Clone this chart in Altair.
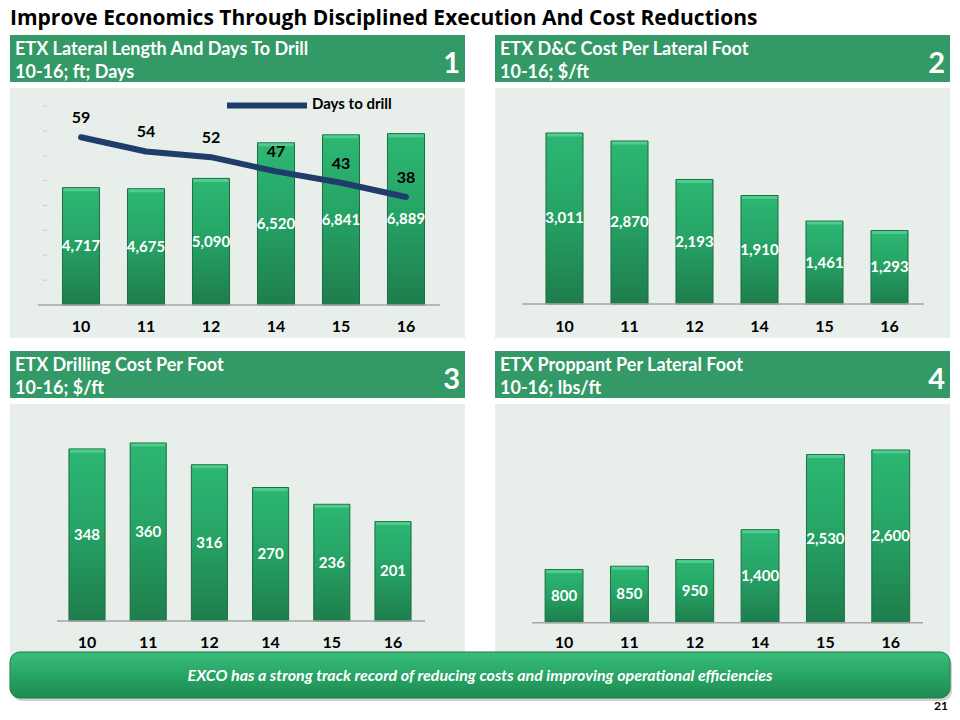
import altair as alt
import pandas as pd

# ---------------- data ----------------
years = ["10", "11", "12", "14", "15", "16"]
lateral_ft = [4717, 4675, 5090, 6520, 6841, 6889]
days_to_drill = [59, 54, 52, 47, 43, 38]
dc_cost_per_ft = [3011, 2870, 2193, 1910, 1461, 1293]
drilling_cost_per_ft = [348, 360, 316, 270, 236, 201]
proppant_per_ft = [800, 850, 950, 1400, 2530, 2600]
lateral_tick_values = [1000, 2000, 3000, 4000, 5000, 6000, 7000, 8000]

title_text = "Improve Economics Through Disciplined Execution And Cost Reductions"
headers = [
    ["ETX Lateral Length And Days To Drill", "10-16; ft; Days"],
    ["ETX D&C Cost Per Lateral Foot", "10-16; $/ft"],
    ["ETX Drilling Cost Per Foot", "10-16; $/ft"],
    ["ETX Proppant Per Lateral Foot", "10-16; lbs/ft"],
]
banner_text = "EXCO has a strong track record of reducing costs and improving operational efficiencies"

FONT = "Lato"
HEADER_GREEN = "#339966"
PANEL_GRAY = "#e8eeea"
LINE_BLUE = "#1f3d6b"

dummy = alt.Data(values=[{"a": 1}])

bar_grad = alt.Gradient(
    gradient="linear",
    stops=[
        alt.GradientStop(offset=0, color="#2db773"),
        alt.GradientStop(offset=0.45, color="#26a466"),
        alt.GradientStop(offset=1, color="#1e7d4c"),
    ],
    x1=0, x2=0, y1=0, y2=1,
)
banner_grad = alt.Gradient(
    gradient="linear",
    stops=[
        alt.GradientStop(offset=0, color="#3bbd7c"),
        alt.GradientStop(offset=0.5, color="#27a565"),
        alt.GradientStop(offset=1, color="#1f8a53"),
    ],
    x1=0, x2=0, y1=0, y2=1,
)

layers = []


def rect(x1, x2, y1, y2, **kw):
    return alt.Chart(dummy).mark_rect(**kw).encode(
        x=alt.value(x1), x2=alt.value(x2), y=alt.value(y1), y2=alt.value(y2)
    )


def text(s, x, y, font=FONT, **kw):
    return alt.Chart(dummy).mark_text(text=s, font=font, **kw).encode(
        x=alt.value(x), y=alt.value(y)
    )


# title
layers.append(text(title_text, 2, 16.5, font="Open Sans", fontSize=21, fontWeight="bold", color="black",
                   align="left", baseline="alphabetic"))

# panel frames: (x-left, y-top of header)
frames = [(2, 27), (487, 27), (2, 343), (487, 343)]
for i, (fx, fy) in enumerate(frames):
    layers.append(rect(fx, fx + 455, fy + 53, fy + 306 if i >= 2 else fy + 303, color=PANEL_GRAY))
    layers.append(rect(fx, fx + 455, fy, fy + 47, color=HEADER_GREEN))
    layers.append(text(headers[i], fx + 5, fy + 20, fontSize=18, fontWeight="bold", color="white",
                       align="left", baseline="alphabetic", lineHeight=23))
    layers.append(text(str(i + 1), fx + 450, fy + 38, fontSize=29, fontWeight="bold", color="white",
                       align="right", baseline="alphabetic"))

panels = [
    dict(vals=lateral_ft, xr=[40.5, 430.5], yr=[297, 98], ydom=[0, 8000], pin=0.43,
         axis=[30, 432], lab_y=319, bw=37),
    dict(vals=dc_cost_per_ft, xr=[524, 914], yr=[296, 97.2], ydom=[0, 3500], pin=0.43,
         axis=[514, 916], lab_y=319, bw=37),
    dict(vals=drilling_cost_per_ft, xr=[48.4, 415.6], yr=[613, 415.2], ydom=[0, 400], pin=0.41,
         axis=[49, 417], lab_y=635, bw=36),
    dict(vals=proppant_per_ft, xr=[523.4, 915.4], yr=[614.7, 415.4], ydom=[0, 3000], pin=0.42,
         axis=[524, 915], lab_y=635, bw=37.7),
]

for p in panels:
    df = pd.DataFrame({"year": years, "v": p["vals"]})
    xs = alt.Scale(domain=years, range=p["xr"], paddingInner=p["pin"], paddingOuter=p["pin"] / 2)
    ys = alt.Scale(domain=p["ydom"], range=p["yr"], nice=False, zero=True)
    X = alt.X("year:N", scale=xs, axis=None, bandPosition=0.5)
    Xb = alt.X("year:N", scale=xs, axis=None)
    base = alt.Chart(df)
    layers.append(base.mark_bar(color=bar_grad, stroke="#1b6e43", strokeWidth=1).encode(
        x=Xb, y=alt.Y("v:Q", scale=ys, axis=None)))
    layers.append(base.mark_tick(color="#5fd69a", thickness=3, size=p["bw"] - 2, yOffset=2).encode(
        x=X, y=alt.Y("v:Q", scale=ys, axis=None)))
    layers.append(base.transform_calculate(mid="datum.v / 2").mark_text(
        font=FONT, fontSize=15, fontWeight="bold", color="white", baseline="middle").encode(
        x=X, y=alt.Y("mid:Q", scale=ys, axis=None), text=alt.Text("v:Q", format=",")))
    # baseline
    layers.append(alt.Chart(alt.Data(values=[{"z": 0}])).mark_rule(color="#a6a6a6", strokeWidth=1.5).encode(
        y=alt.Y("z:Q", scale=ys, axis=None), x=alt.value(p["axis"][0]), x2=alt.value(p["axis"][1])))
    # category labels
    layers.append(base.mark_text(font=FONT, fontSize=16, fontWeight="bold", color="black",
                                 baseline="middle", y=p["lab_y"]).encode(
        x=X, text="year:N"))

# faint y ticks on panel 1
p1 = panels[0]
ys1 = alt.Scale(domain=p1["ydom"], range=p1["yr"], nice=False, zero=True)
layers.append(alt.Chart(pd.DataFrame({"t": lateral_tick_values})).mark_rule(color="#c5cdc9", strokeWidth=1).encode(
    y=alt.Y("t:Q", scale=ys1, axis=None), x=alt.value(35), x2=alt.value(39)))

# days to drill line
ddf = pd.DataFrame({"year": years, "d": days_to_drill})
xs1 = alt.Scale(domain=years, range=p1["xr"], paddingInner=p1["pin"], paddingOuter=p1["pin"] / 2)
ysd = alt.Scale(domain=[0, 70], range=p1["yr"], nice=False, zero=True)
layers.append(alt.Chart(ddf).mark_line(color=LINE_BLUE, strokeWidth=6, strokeCap="round", strokeJoin="round").encode(
    x=alt.X("year:N", scale=xs1, axis=None, bandPosition=0.5, sort=years),
    y=alt.Y("d:Q", scale=ysd, axis=None)))
layers.append(alt.Chart(ddf).mark_text(font=FONT, fontSize=16, fontWeight="bold", color="black",
                                       baseline="middle", dy=-19).encode(
    x=alt.X("year:N", scale=xs1, axis=None, bandPosition=0.5),
    y=alt.Y("d:Q", scale=ysd, axis=None), text="d:Q"))
# legend
layers.append(alt.Chart(dummy).mark_rule(color=LINE_BLUE, strokeWidth=6).encode(
    x=alt.value(219), x2=alt.value(299), y=alt.value(97.5)))
layers.append(text("Days to drill", 304, 96, fontSize=15, fontWeight="bold", color="black",
                   align="left", baseline="middle"))

# bottom banner
layers.append(alt.Chart(dummy).mark_rect(color="#9a9a9a", opacity=0.45, cornerRadius=10).encode(
    x=alt.value(4), x2=alt.value(944), y=alt.value(647), y2=alt.value(693)))
layers.append(alt.Chart(dummy).mark_rect(color=banner_grad, cornerRadius=10, stroke="#1c7a48", strokeWidth=1).encode(
    x=alt.value(2), x2=alt.value(942), y=alt.value(644), y2=alt.value(690)))
layers.append(text(banner_text, 472, 668, fontSize=16, fontStyle="italic", fontWeight="bold", color="white",
                   align="center", baseline="middle"))
layers.append(text("21", 940, 702, fontSize=12, fontWeight="bold", color="black",
                   align="right", baseline="alphabetic"))

chart = alt.layer(*layers).resolve_scale(x="independent", y="independent").properties(
    width=944, height=704, padding=0, autosize="none", background="white"
).configure_view(stroke=None)

chart.save("out.html", embed_options={"renderer": "svg", "actions": False})
